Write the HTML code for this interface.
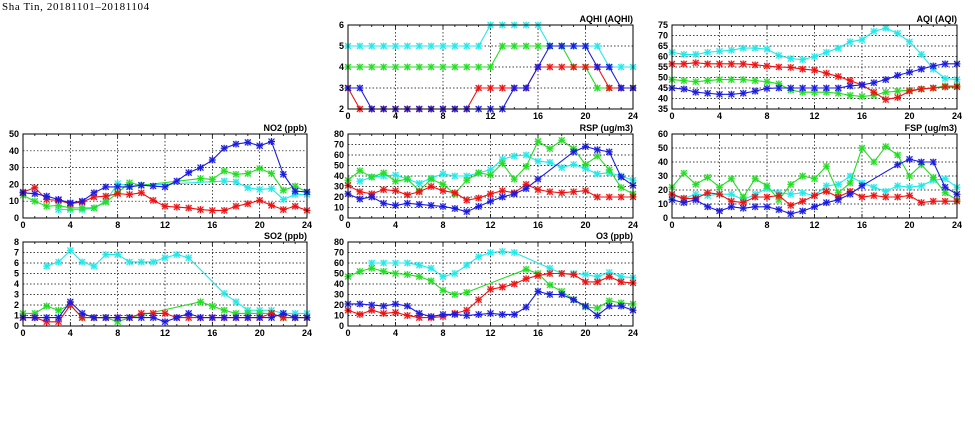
<!DOCTYPE html>
<html><head><meta charset="utf-8"><style>
html,body{margin:0;padding:0;background:#fff;width:975px;height:447px;overflow:hidden}
svg{display:block}
text{font-family:"Liberation Sans",sans-serif;font-size:9px;font-weight:bold;fill:#000}
</style></head><body>
<svg width="975" height="447" viewBox="0 0 975 447" xmlns="http://www.w3.org/2000/svg">
<text x="2" y="10" style="font-size:11px;font-weight:normal;letter-spacing:0.6px;font-family:'Liberation Serif',serif">Sha Tin, 20181101–20181104</text>

<g id="aqhi" transform="translate(348,25)">
<text x="285" y="-3" text-anchor="end">AQHI (AQHI)</text>
<g text-anchor="end"><text x="-4" y="3">6</text><text x="-4" y="24">5</text><text x="-4" y="45">4</text><text x="-4" y="66">3</text><text x="-4" y="87">2</text></g>
<g text-anchor="middle"><text x="0" y="94">0</text><text x="47.5" y="94">4</text><text x="95" y="94">8</text><text x="142.5" y="94">12</text><text x="190" y="94">16</text><text x="237.5" y="94">20</text><text x="285" y="94">24</text></g>
</g>
<g id="aqi" transform="translate(672,25)">
<text x="285" y="-3" text-anchor="end">AQI (AQI)</text>
<g text-anchor="end"><text x="-4" y="3">75</text><text x="-4" y="13.5">70</text><text x="-4" y="24">65</text><text x="-4" y="34.5">60</text><text x="-4" y="45">55</text><text x="-4" y="55.5">50</text><text x="-4" y="66">45</text><text x="-4" y="76.5">40</text><text x="-4" y="87">35</text></g>
<g text-anchor="middle"><text x="0" y="94">0</text><text x="47.5" y="94">4</text><text x="95" y="94">8</text><text x="142.5" y="94">12</text><text x="190" y="94">16</text><text x="237.5" y="94">20</text><text x="285" y="94">24</text></g>
</g>
<g id="no2" transform="translate(23,134)">
<text x="284" y="-3" text-anchor="end">NO2 (ppb)</text>
<g text-anchor="end"><text x="-4" y="3">50</text><text x="-4" y="19.8">40</text><text x="-4" y="36.6">30</text><text x="-4" y="53.4">20</text><text x="-4" y="70.2">10</text><text x="-4" y="87">0</text></g>
<g text-anchor="middle"><text x="0" y="94">0</text><text x="47.3" y="94">4</text><text x="94.7" y="94">8</text><text x="142" y="94">12</text><text x="189.3" y="94">16</text><text x="236.7" y="94">20</text><text x="284" y="94">24</text></g>
</g>
<g id="rsp" transform="translate(348,134)">
<text x="285" y="-3" text-anchor="end">RSP (ug/m3)</text>
<g text-anchor="end"><text x="-4" y="3">80</text><text x="-4" y="13.5">70</text><text x="-4" y="24">60</text><text x="-4" y="34.5">50</text><text x="-4" y="45">40</text><text x="-4" y="55.5">30</text><text x="-4" y="66">20</text><text x="-4" y="76.5">10</text><text x="-4" y="87">0</text></g>
<g text-anchor="middle"><text x="0" y="94">0</text><text x="47.5" y="94">4</text><text x="95" y="94">8</text><text x="142.5" y="94">12</text><text x="190" y="94">16</text><text x="237.5" y="94">20</text><text x="285" y="94">24</text></g>
</g>
<g id="fsp" transform="translate(672,134)">
<text x="285" y="-3" text-anchor="end">FSP (ug/m3)</text>
<g text-anchor="end"><text x="-4" y="3">60</text><text x="-4" y="17">50</text><text x="-4" y="31">40</text><text x="-4" y="45">30</text><text x="-4" y="59">20</text><text x="-4" y="73">10</text><text x="-4" y="87">0</text></g>
<g text-anchor="middle"><text x="0" y="94">0</text><text x="47.5" y="94">4</text><text x="95" y="94">8</text><text x="142.5" y="94">12</text><text x="190" y="94">16</text><text x="237.5" y="94">20</text><text x="285" y="94">24</text></g>
</g>
<g id="so2" transform="translate(23,242)">
<text x="284" y="-3" text-anchor="end">SO2 (ppb)</text>
<g text-anchor="end"><text x="-4" y="3">8</text><text x="-4" y="13.5">7</text><text x="-4" y="24">6</text><text x="-4" y="34.5">5</text><text x="-4" y="45">4</text><text x="-4" y="55.5">3</text><text x="-4" y="66">2</text><text x="-4" y="76.5">1</text><text x="-4" y="87">0</text></g>
<g text-anchor="middle"><text x="0" y="94">0</text><text x="47.3" y="94">4</text><text x="94.7" y="94">8</text><text x="142" y="94">12</text><text x="189.3" y="94">16</text><text x="236.7" y="94">20</text><text x="284" y="94">24</text></g>
</g>
<g id="o3" transform="translate(348,242)">
<text x="285" y="-3" text-anchor="end">O3 (ppb)</text>
<g text-anchor="end"><text x="-4" y="3">80</text><text x="-4" y="13.5">70</text><text x="-4" y="24">60</text><text x="-4" y="34.5">50</text><text x="-4" y="45">40</text><text x="-4" y="55.5">30</text><text x="-4" y="66">20</text><text x="-4" y="76.5">10</text><text x="-4" y="87">0</text></g>
<g text-anchor="middle"><text x="0" y="94">0</text><text x="47.5" y="94">4</text><text x="95" y="94">8</text><text x="142.5" y="94">12</text><text x="190" y="94">16</text><text x="237.5" y="94">20</text><text x="285" y="94">24</text></g>
</g>
</svg>
<script>
var N=null;
var C={c:"#22e8e8",g:"#22dd22",r:"#ee1111",b:"#1a1ae0"};
var P={
aqhi:{w:285,min:2,max:6,step:1,s:{
c:[5,5,5,5,5,5,5,5,5,5,5,5,6,6,6,6,6,5,5,5,5,5,4,4,4],
g:[4,4,4,4,4,4,4,4,4,4,4,4,4,5,5,5,5,5,5,4,4,3,3,3,3],
r:[3,2,2,2,2,2,2,2,2,2,2,3,3,3,3,3,4,4,4,4,4,4,3,3,3],
b:[3,3,2,2,2,2,2,2,2,2,2,2,2,2,3,3,4,5,5,5,5,4,4,3,3]}},
aqi:{w:285,min:35,max:75,step:5,s:{
c:[62,61,61,62,62.5,63,64,64,63.5,60.5,59,58.5,60,62,64,67,68,72,73.5,71,67,61,54,49.5,49],
g:[49,48.5,48,48.5,49,49,49,48.5,48,47,44,43,43,43,42.5,41.5,41,41.5,43,43.5,44,44.5,45,46,46],
r:[56.5,56.5,57,56.5,56.5,56.5,56.5,56,55.5,55,54.8,54,53.5,52,50.5,48.5,46.5,43,39.5,40.5,43.5,44.5,45,45.5,45.5],
b:[45,44.5,43,42.5,42,42,42.5,43.5,44.8,45,45,45,45,45,45,46,46.5,47.5,49,51,52.5,54,55.5,56.5,56.5]}},
no2:{w:284,min:0,max:50,step:10,s:{
c:[N,N,N,5,5,5,6,10,20.5,19,N,N,N,N,N,N,N,22,21.5,18,17,17.5,11,14,14],
g:[13.5,10,7,7.5,6,6,6,9.5,15,21,19.5,N,N,N,N,23.5,23,28,26,26.5,29.5,26.5,16.5,19,15.5],
r:[15.5,18,11,10.5,8.5,9.5,12.5,13,14.5,14,15,10.5,7,6.5,6,5,4.5,4.5,7,8.5,10.5,7.5,5,7,4.5],
b:[15,14.5,13,11,9,10,15,18.5,18.5,18.5,19.5,19,18.5,22,27,30,34.5,41.5,44,45,43,45.5,26,16,15.5]}},
rsp:{w:285,min:0,max:80,step:10,s:{
c:[N,35,39,40,41,37,33,38,42,40,40,43,46,56,59,60,54,53,48,51,47,42,43,40,36],
g:[36,45,39,43,35,37,26,37,32,23,36,43,41,52,37,49,73,66,74,66,51,59,46,29,23],
r:[31,25,23,27,26,22,25,30,26,24,17,19,23,26,24,32,27,25,24,25,26,20,20,20,20],
b:[23,18,20,14,12,14,13,12,11,9,6,11,16,20,23,28,37,N,N,63,68,65,63,39,31]}},
fsp:{w:285,min:0,max:60,step:10,s:{
c:[16,14,17,16,17,17,13,17,21,18,17,18,16,23,24,30,25,22,19,23,22,23,27,28,22],
g:[22,32,24,29,22,28,15,28,23,13,24,30,28,37,18,25,50,40,51,45,30,38,29,18,13],
r:[17,14,14,18,17,12,11,15,15,16,9,12,16,19,15,19,15,16,15,15,16,11,12,12,12],
b:[13,11,13,8,5,8,7,8,8,6,3,5,8,11,13,17,23,N,N,38,42,40,40,22,17]}},
so2:{w:284,min:0,max:8,step:1,s:{
c:[N,N,5.7,6.1,7.2,6.1,5.7,6.8,6.8,6.1,6.1,6.1,6.5,6.8,6.5,N,N,3.1,2.3,1.5,1.5,1.5,1.2,1.2,1.2],
g:[1.2,1.2,1.9,1.5,2.0,0.8,0.8,0.8,0.4,0.8,N,N,N,N,N,2.3,1.9,1.5,1.2,1.2,1.2,1.2,0.8,0.8,0.8],
r:[0.8,0.8,0.4,0.4,2.0,0.8,0.8,0.8,0.8,0.8,1.2,1.2,1.2,0.8,0.8,0.8,0.8,0.8,0.8,0.8,0.8,1.2,0.8,0.8,0.8],
b:[0.8,0.8,0.8,0.8,2.3,1.2,0.8,0.8,0.8,0.8,0.8,0.8,0.4,0.8,1.2,0.8,0.8,0.8,0.8,0.8,0.8,0.8,1.2,0.8,0.8]}},
o3:{w:285,min:0,max:80,step:10,s:{
c:[N,N,60,60,60,60,58,55,47,50,58,66,70,71,70,N,N,55,50,50,49,47,51,47,46],
g:[47,52,55,52,50,49,47,43,34,30,32,N,N,N,N,54,50,39,33,25,18,17,24,22,21],
r:[15,11,15,12,13,10,8,8,9,12,15,25,35,37,40,45,48,50,50,49,42,42,47,42,41],
b:[21,21,20,19,21,19,12,9,11,11,10,11,12,11,11,18,33,30,30,25,19,10,19,19,15]}}
};
var NS="http://www.w3.org/2000/svg";
function el(g,t,a){var e=document.createElementNS(NS,t);for(var k in a)e.setAttribute(k,a[k]);g.appendChild(e);return e;}
for(var id in P){
 var p=P[id],g=document.getElementById(id),w=p.w,h=84;
 for(var i=1;i<6;i++){var x=w*i/6;el(g,"line",{x1:x,x2:x,y1:0,y2:h,stroke:"#000","stroke-width":0.7,"stroke-dasharray":"1.5,2"});}
 var n=(p.max-p.min)/p.step;
 for(var j=1;j<n;j++){var y=h*j/n;el(g,"line",{x1:0,x2:w,y1:y,y2:y,stroke:"#000","stroke-width":0.7,"stroke-dasharray":"1.5,2"});}
 for(var i=0;i<=24;i++){var x=w*i/24,L=(i%4==0)?4:2;el(g,"line",{x1:x,x2:x,y1:h,y2:h-L,stroke:"#000","stroke-width":0.8});el(g,"line",{x1:x,x2:x,y1:0,y2:L,stroke:"#000","stroke-width":0.8});}
 ["c","g","r","b"].forEach(function(k){
  var d=p.s[k],pts=[];
  d.forEach(function(v,i){if(v!==null)pts.push([w*i/24,h-(v-p.min)/(p.max-p.min)*h]);});
  el(g,"polyline",{points:pts.map(function(q){return q.join(",")}).join(" "),fill:"none",stroke:C[k],"stroke-width":1.1});
  pts.forEach(function(q){
   el(g,"rect",{x:q[0]-3,y:q[1]-3,width:6,height:6,fill:C[k],opacity:0.35});
   el(g,"path",{d:"M"+(q[0]-3)+","+(q[1]-3)+"l6,6m0,-6l-6,6M"+(q[0]-3.5)+","+q[1]+"h7M"+q[0]+","+(q[1]-3.5)+"v7",stroke:C[k],"stroke-width":1});
  });
 });
 el(g,"rect",{x:0,y:0,width:w,height:h,fill:"none",stroke:"#000","stroke-width":1});
}
</script>
</body></html>
